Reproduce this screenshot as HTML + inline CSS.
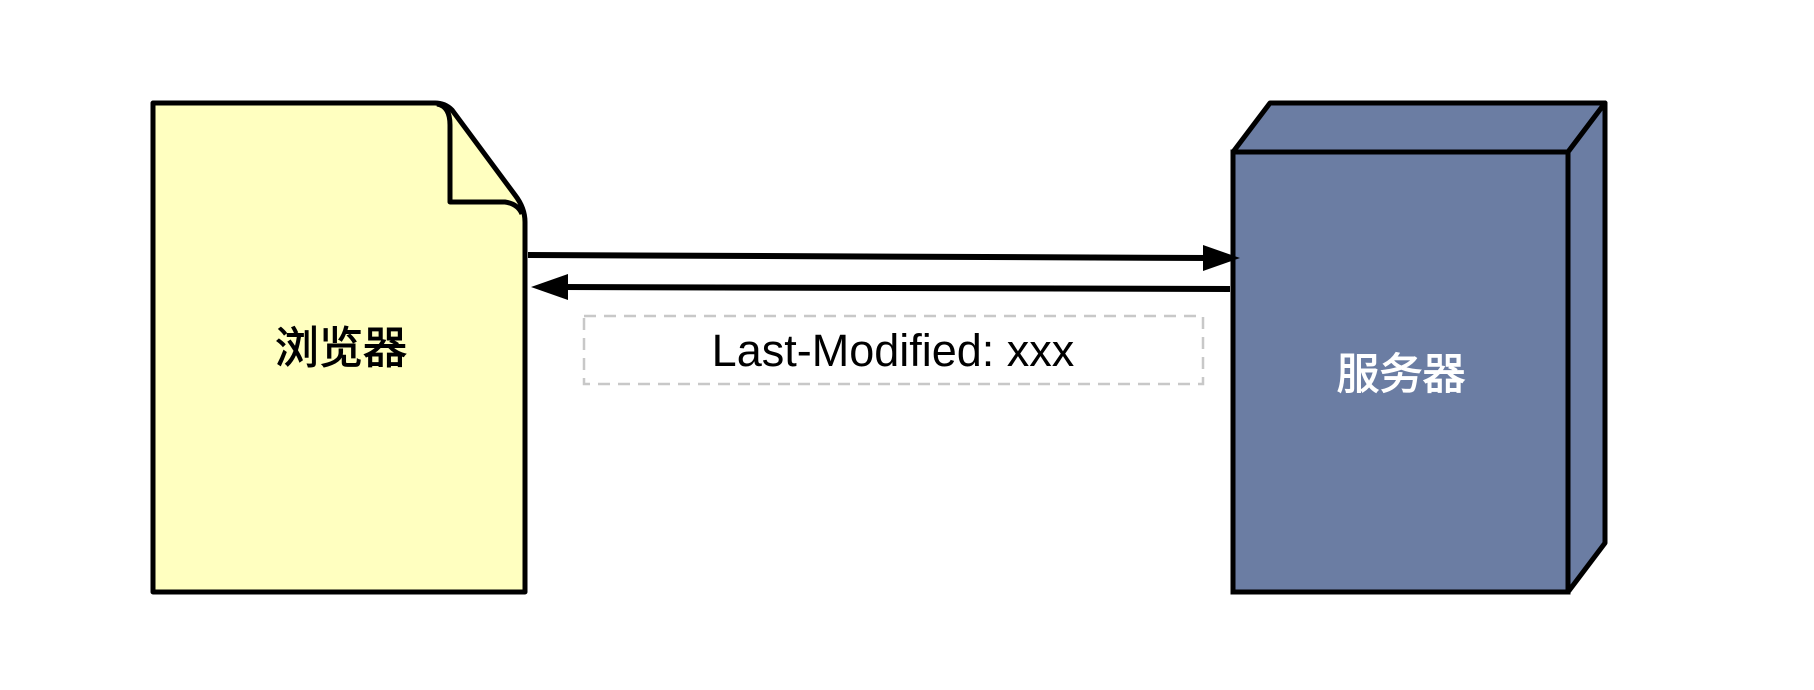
<!DOCTYPE html>
<html><head><meta charset="utf-8"><style>
html,body{margin:0;padding:0;background:#fff;}
svg{display:block;}
</style></head><body>
<svg width="1814" height="690" viewBox="0 0 1814 690" xmlns="http://www.w3.org/2000/svg">
<!-- browser document -->
<path d="M153,103 L435,103 Q445,103 452,110 L515,195 Q525,208 525,222 L525,592 L153,592 Z" fill="#ffffc0" stroke="#000" stroke-width="5" stroke-linejoin="round"/>
<path d="M437,104 Q450,106 450,125 L450,202 L505,202 Q518,204 522,214" fill="none" stroke="#000" stroke-width="5" stroke-linejoin="round"/>
<text x="341" y="363" font-family="'Noto Sans CJK SC',sans-serif" font-size="44" text-anchor="middle" fill="#000" stroke="#000" stroke-width="1">浏览器</text>
<!-- server box -->
<polygon points="1233,152 1270,103 1605,103 1568,152" fill="#6b7da3" stroke="#000" stroke-width="5" stroke-linejoin="round"/>
<polygon points="1568,152 1605,103 1605,543 1568,592" fill="#6b7da3" stroke="#000" stroke-width="5" stroke-linejoin="round"/>
<rect x="1233" y="152" width="335" height="440" fill="#6b7da3" stroke="#000" stroke-width="5"/>
<text x="1401" y="389" font-family="'Noto Sans CJK SC',sans-serif" font-size="43" text-anchor="middle" fill="#fff" stroke="#fff" stroke-width="1">服务器</text>
<!-- arrows -->
<line x1="528" y1="255" x2="1210" y2="258" stroke="#000" stroke-width="6"/>
<polygon points="1240,258 1203,245 1203,271" fill="#000"/>
<line x1="560" y1="287" x2="1230" y2="289" stroke="#000" stroke-width="6"/>
<polygon points="531,287 568,274 568,300" fill="#000"/>
<!-- label -->
<rect x="584" y="316" width="619" height="68" fill="none" stroke="#c8c8c8" stroke-width="2.5" stroke-dasharray="12,8"/>
<text x="893" y="366" font-family="'Liberation Sans',sans-serif" font-size="45" text-anchor="middle" fill="#000">Last-Modified: xxx</text>
</svg>
</body></html>
